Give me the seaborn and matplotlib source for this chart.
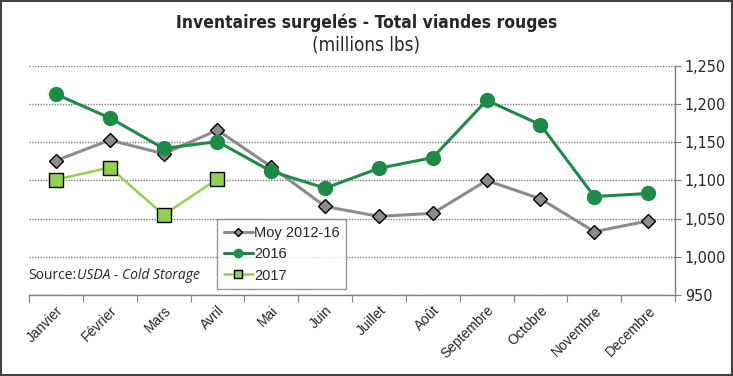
import numpy as np
import pandas as pd
import matplotlib.pyplot as plt
import seaborn as sns

# Data
mois = ['Janvier', 'Février', 'Mars', 'Avril', 'Mai', 'Juin', 'Juillet',
        'Août', 'Septembre', 'Octobre', 'Novembre', 'Decembre']
moy_2012_16 = [1126, 1153, 1135, 1166, 1118, 1066, 1053, 1057, 1100, 1076, 1033, 1047]
val_2016 = [1213, 1182, 1142, 1151, 1112, 1090, 1116, 1130, 1205, 1173, 1079, 1083]
val_2017 = [1101, 1117, 1055, 1102]

series = {'Moy 2012-16': moy_2012_16, '2016': val_2016, '2017': val_2017}
rows = []
for name, vals in series.items():
    for i, v in enumerate(vals):
        rows.append({'mois': i, 'valeur': v, 'serie': name})
df = pd.DataFrame(rows)

sns.set_style('white')
plt.rcParams['font.family'] = ['Liberation Sans', 'DejaVu Sans']

fig = plt.figure(figsize=(7.33, 3.76), dpi=100)
ax = fig.add_axes([0.0396, 0.2154, 0.8814, 0.6091])

styles = {
    'Moy 2012-16': dict(color='#8c8c8c', marker='D', markersize=7, mfc='#8c8c8c', mec='black', mew=1.0, lw=2.2),
    '2016': dict(color='#1e8a47', marker='o', markersize=10, mfc='#1e8a47', mec='#1e8a47', mew=1.0, lw=2.2),
    '2017': dict(color='#92d050', marker='s', markersize=10, mfc='#92d050', mec='black', mew=1.0, lw=1.8),
}
for name in series:
    sub = df[df['serie'] == name]
    sns.lineplot(data=sub, x='mois', y='valeur', ax=ax, sort=False, label=name, **styles[name])

ax.set_xlim(-0.5, 11.5)
ax.set_ylim(950, 1250)
ax.yaxis.tick_right()
ax.set_yticks(np.arange(950, 1251, 50))
ax.set_yticklabels([f'{v:,}' for v in range(950, 1251, 50)], fontsize=11.5,
                   family='DejaVu Sans', stretch='condensed')
ax.tick_params(axis='y', length=4, color='#808080', pad=3)
ax.yaxis.grid(True, linestyle=(0, (1, 1)), color='#808080', lw=1)
ax.set_axisbelow(True)

ax.set_xticks(np.arange(-0.5, 12, 1))
ax.set_xticklabels([])
ax.set_xticks(np.arange(12), minor=True)
ax.set_xticklabels(mois, minor=True, rotation=45, ha='right', rotation_mode='anchor',
                   fontsize=10)
ax.tick_params(axis='x', which='major', length=5, color='#808080', direction='out')
ax.tick_params(axis='x', which='minor', length=0, pad=6)
ax.xaxis.tick_bottom()
ax.set_xlabel('')
ax.set_ylabel('')

for s in ['top', 'left']:
    ax.spines[s].set_visible(False)
for s in ['bottom', 'right']:
    ax.spines[s].set_color('#808080')
    ax.spines[s].set_linewidth(1)

leg = ax.legend(loc='lower left', bbox_to_anchor=(0.296, 0.231), bbox_transform=fig.transFigure,
                frameon=True, fancybox=False, handlelength=2.0, borderpad=0.45,
                labelspacing=0.5, handletextpad=0.1, borderaxespad=0, markerscale=0.6,
                prop={'family': ['Liberation Sans', 'DejaVu Sans'], 'size': 10.5})
leg.get_frame().set_edgecolor('#808080')
leg.get_frame().set_linewidth(1)

fig.text(0.5, 0.94, 'Inventaires surgelés - Total viandes rouges', ha='center', va='center',
         fontsize=12.5, fontweight='bold', family='DejaVu Sans', stretch='condensed')
fig.text(0.5, 0.88, '(millions lbs)', ha='center', va='center', fontsize=13.5,
         family='DejaVu Sans', stretch='condensed')
fig.text(0.039, 0.268, 'Source:', ha='left', va='center', fontsize=10,
         family=['Open Sans', 'DejaVu Sans'])
fig.text(0.105, 0.268, 'USDA - Cold Storage', ha='left', va='center', fontsize=10,
         style='italic', family=['Open Sans', 'DejaVu Sans'])

border = plt.Rectangle((0.001, 0.002), 0.997, 0.995, transform=fig.transFigure, fill=False,
                       edgecolor='#404040', lw=1.5)
fig.patches.append(border)

fig.savefig('out.png', dpi=100)
